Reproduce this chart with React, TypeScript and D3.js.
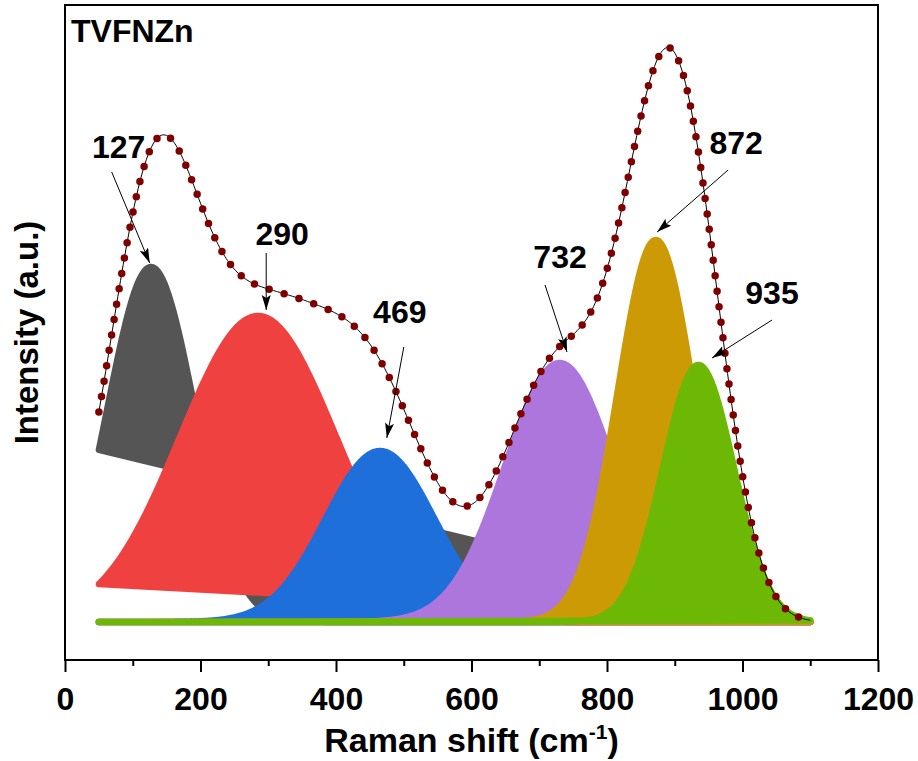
import { useEffect, useRef } from 'react';
import * as d3 from 'd3';

// fitted gaussian components (Raman shift in cm-1, intensity in a.u.)
const peakCenters = [127, 285, 465, 730, 872, 935];
const peakLabels = ['127', '290', '469', '732', '872', '935'];
const peakHeights = [3.55, 3.06, 1.71, 2.59, 3.82, 2.57];
const peakSigmas = [64, 115, 80, 80, 56, 52];
const peakColors = ['#555555', '#F04141', '#1F6FDA', '#AD76DC', '#CC9A04', '#6DB804'];
const fitRange = [50, 1100];
// where each arrow points (cm-1, a.u.)
const arrowTipX = [125, 297, 475, 741, 874, 955];
const arrowTipY = [3.59, 3.12, 1.84, 2.7, 3.9, 2.64];
const xTicks = [0, 200, 400, 600, 800, 1000, 1200];
const xMinorTicks = [100, 300, 500, 700, 900, 1100];

const FONT = "'Liberation Sans', Arial, sans-serif";

const App = () => {
  const ref = useRef<SVGSVGElement>(null!);

  useEffect(() => {
    const width = 918;
    const height = 761;
    const plot = { left: 65, right: 878, top: 5, bottom: 660 };

    const x = d3.scaleLinear().domain([0, 1200]).range([plot.left, plot.right]);
    const y = d3.scaleLinear().domain([-0.38, 6.17]).range([plot.bottom, plot.top]);

    const svg = d3.select(ref.current);
    svg.attr('width', width).attr('height', height);

    const grid = d3.range(fitRange[0], fitRange[1] + 0.1, 2);
    const gauss = (i: number, v: number) =>
      peakHeights[i] * Math.exp(-((v - peakCenters[i]) ** 2) / (2 * peakSigmas[i] ** 2));

    const line = d3
      .line<[number, number]>()
      .x(d => x(d[0]))
      .y(d => y(d[1]));

    // filled components, closed straight back to the first point
    peakCenters.forEach((_, i) => {
      const pts: [number, number][] = grid.map(v => [v, gauss(i, v)]);
      svg
        .append('path')
        .attr('d', line(pts) + 'Z')
        .attr('fill', peakColors[i])
        .attr('stroke', peakColors[i])
        .attr('stroke-width', 6.5)
        .attr('stroke-linejoin', 'round');
    });

    // cumulative fit
    const fit: [number, number][] = grid.map(v => [
      v,
      d3.sum(peakCenters, (_, i) => gauss(i, v)),
    ]);
    svg
      .append('path')
      .attr('d', line(fit))
      .attr('fill', 'none')
      .attr('stroke', '#000')
      .attr('stroke-width', 1);
    svg
      .append('path')
      .attr('d', line(fit))
      .attr('fill', 'none')
      .attr('stroke', '#800000')
      .attr('stroke-width', 7.5)
      .attr('stroke-linecap', 'round')
      .attr('stroke-dasharray', '0 15.6');

    // frame
    svg
      .append('rect')
      .attr('x', plot.left)
      .attr('y', plot.top)
      .attr('width', plot.right - plot.left)
      .attr('height', plot.bottom - plot.top)
      .attr('fill', 'none')
      .attr('stroke', '#000')
      .attr('stroke-width', 2);

    const xAxis = svg
      .append('g')
      .attr('transform', `translate(0, ${plot.bottom})`)
      .call(d3.axisBottom(x).tickValues(xTicks).tickSize(12).tickFormat(d3.format('d')));
    xAxis.select('.domain').remove();
    xAxis.selectAll('line').attr('stroke-width', 2);
    xAxis
      .selectAll('text')
      .attr('y', 50)
      .attr('dy', null)
      .attr('font-size', 32)
      .attr('font-weight', 'bold')
      .attr('font-family', FONT)
      .attr('fill', '#000');

    const minor = svg
      .append('g')
      .attr('transform', `translate(0, ${plot.bottom})`)
      .call(d3.axisBottom(x).tickValues(xMinorTicks).tickSize(6).tickFormat(() => ''));
    minor.select('.domain').remove();
    minor.selectAll('line').attr('stroke-width', 2);

    // axis titles
    const xTitle = svg
      .append('text')
      .attr('x', (plot.left + plot.right) / 2)
      .attr('y', 752)
      .attr('text-anchor', 'middle')
      .attr('font-size', 34)
      .attr('font-weight', 'bold')
      .attr('font-family', FONT);
    xTitle.append('tspan').text('Raman shift (cm');
    xTitle.append('tspan').attr('dy', -13).attr('font-size', 21).text('-1');
    xTitle.append('tspan').attr('dy', 13).text(')');

    svg
      .append('text')
      .attr('transform', `translate(38, ${(plot.top + plot.bottom) / 2}) rotate(-90)`)
      .attr('text-anchor', 'middle')
      .attr('font-size', 33)
      .attr('font-weight', 'bold')
      .attr('font-family', FONT)
      .text('Intensity (a.u.)');

    svg
      .append('text')
      .attr('x', 71)
      .attr('y', 42)
      .attr('font-size', 32)
      .attr('font-weight', 'bold')
      .attr('font-family', FONT)
      .text('TVFNZn');

    // arrows and labels
    svg
      .append('defs')
      .append('marker')
      .attr('id', 'head')
      .attr('markerUnits', 'userSpaceOnUse')
      .attr('markerWidth', 16)
      .attr('markerHeight', 10)
      .attr('refX', 15)
      .attr('refY', 4.5)
      .attr('orient', 'auto')
      .append('path')
      .attr('d', 'M0,0 L15,4.5 L0,9 L3,4.5 Z')
      .attr('fill', '#000');

    const tailOffset = [[-38, -91], [0, -57], [17, -91], [-22, -67], [71, -62], [60, -38]];
    const labelOffset = [[-31, -105], [16, -65], [13, -115], [-7, -84], [79, -78], [60, -54]];

    peakLabels.forEach((lab, i) => {
      const tx = x(arrowTipX[i]);
      const ty = y(arrowTipY[i]);
      svg
        .append('line')
        .attr('x1', tx + tailOffset[i][0])
        .attr('y1', ty + tailOffset[i][1])
        .attr('x2', tx)
        .attr('y2', ty)
        .attr('stroke', '#000')
        .attr('stroke-width', 1)
        .attr('marker-end', 'url(#head)');
      svg
        .append('text')
        .attr('x', tx + labelOffset[i][0])
        .attr('y', ty + labelOffset[i][1])
        .attr('text-anchor', 'middle')
        .attr('font-size', 32)
        .attr('font-weight', 'bold')
        .attr('font-family', FONT)
        .text(lab);
    });

    return () => {
      ref.current.innerHTML = '';
    };
  }, []);

  return (
    <svg
      ref={ref}
      style={{ position: 'absolute', left: 0, top: 0, background: '#fff' }}
    ></svg>
  );
};

export default App;
